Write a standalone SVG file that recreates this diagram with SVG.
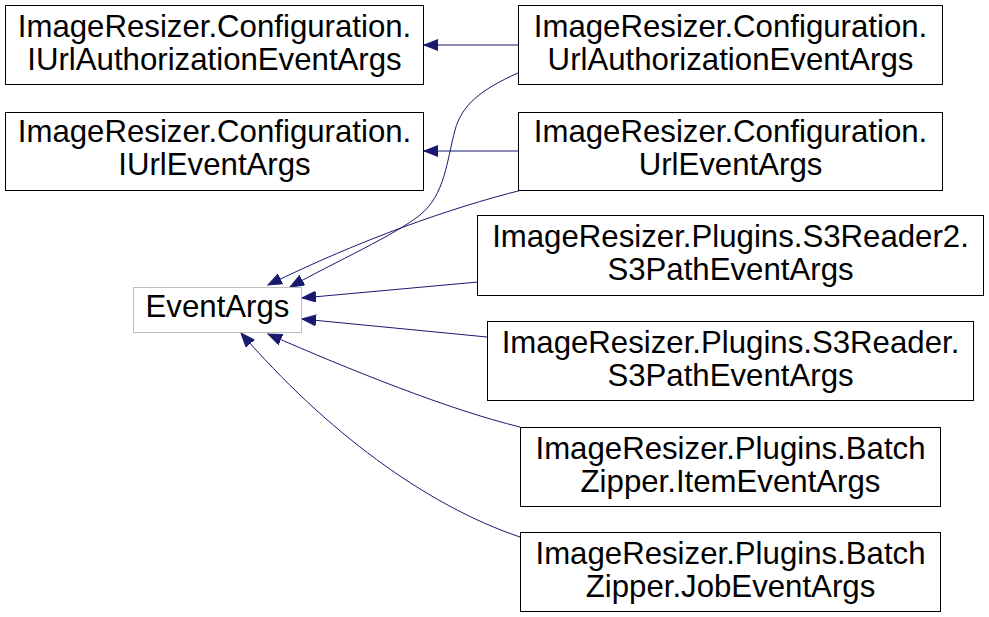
<svg xmlns="http://www.w3.org/2000/svg" width="989" height="617" viewBox="0 0 989 617">
<style>
.box{fill:#fff;stroke:#000;stroke-width:1}
.gray{fill:#fff;stroke:#bfbfbf;stroke-width:1}
text{font-family:"Liberation Sans",Arial,sans-serif;font-size:31.2px;fill:#000;text-anchor:middle}
.edge{fill:none;stroke:#191970;stroke-width:1}
</style>
<defs>
<marker id="arr" markerUnits="userSpaceOnUse" markerWidth="16" markerHeight="12" refX="14" refY="5.5" orient="auto" viewBox="0 0 16 12">
<path d="M0,0 L14,5.5 L0,11 Z" fill="#191970" stroke="#191970"/>
</marker>
</defs>
<rect width="989" height="617" fill="#fff"/>
<g id="edges">
<path class="edge" d="M518,45 L424,45" marker-end="url(#arr)"/>
<path class="edge" d="M518,151 L424,151" marker-end="url(#arr)"/>
<path class="edge" d="M518,73 C480,90 462,105 455,130 C447,160 445,195 420,215 C395,235 335,262 290,287" marker-end="url(#arr)"/>
<path class="edge" d="M522,190 C450,208 360,240 268,285" marker-end="url(#arr)"/>
<path class="edge" d="M478,282 L302,298" marker-end="url(#arr)"/>
<path class="edge" d="M487,337 L302,319" marker-end="url(#arr)"/>
<path class="edge" d="M520,427 C450,410 350,370 268,334" marker-end="url(#arr)"/>
<path class="edge" d="M520,537 C425,505 325,430 241,333" marker-end="url(#arr)"/>
</g>
<g id="node-IUrlAuthorizationEventArgs">
<rect class="box" x="5.5" y="5.5" width="418" height="79"/>
<text x="214.5" y="37">ImageResizer.Configuration.</text>
<text x="214.5" y="70">IUrlAuthorizationEventArgs</text>
</g>
<g id="node-IUrlEventArgs">
<rect class="box" x="5.5" y="112.5" width="418" height="78"/>
<text x="214.5" y="142">ImageResizer.Configuration.</text>
<text x="214.5" y="175">IUrlEventArgs</text>
</g>
<g id="node-UrlAuthorizationEventArgs">
<rect class="box" x="518.5" y="5.5" width="424" height="79"/>
<text x="730.5" y="37">ImageResizer.Configuration.</text>
<text x="730.5" y="70">UrlAuthorizationEventArgs</text>
</g>
<g id="node-UrlEventArgs">
<rect class="box" x="518.5" y="112.5" width="424" height="78"/>
<text x="730.5" y="142">ImageResizer.Configuration.</text>
<text x="730.5" y="175">UrlEventArgs</text>
</g>
<g id="node-EventArgs">
<rect class="gray" x="133.5" y="287.5" width="168" height="45"/>
<text x="217.5" y="317">EventArgs</text>
</g>
<g id="node-S3Reader2-S3PathEventArgs">
<rect class="box" x="477.5" y="215.5" width="506" height="80"/>
<text x="730.5" y="247">ImageResizer.Plugins.S3Reader2.</text>
<text x="730.5" y="280">S3PathEventArgs</text>
</g>
<g id="node-S3Reader-S3PathEventArgs">
<rect class="box" x="487.5" y="321.5" width="486" height="79"/>
<text x="730.5" y="353">ImageResizer.Plugins.S3Reader.</text>
<text x="730.5" y="386">S3PathEventArgs</text>
</g>
<g id="node-ItemEventArgs">
<rect class="box" x="520.5" y="427.5" width="420" height="79"/>
<text x="730.5" y="459">ImageResizer.Plugins.Batch</text>
<text x="730.5" y="492">Zipper.ItemEventArgs</text>
</g>
<g id="node-JobEventArgs">
<rect class="box" x="520.5" y="532.5" width="420" height="79"/>
<text x="730.5" y="564">ImageResizer.Plugins.Batch</text>
<text x="730.5" y="597">Zipper.JobEventArgs</text>
</g>
</svg>
